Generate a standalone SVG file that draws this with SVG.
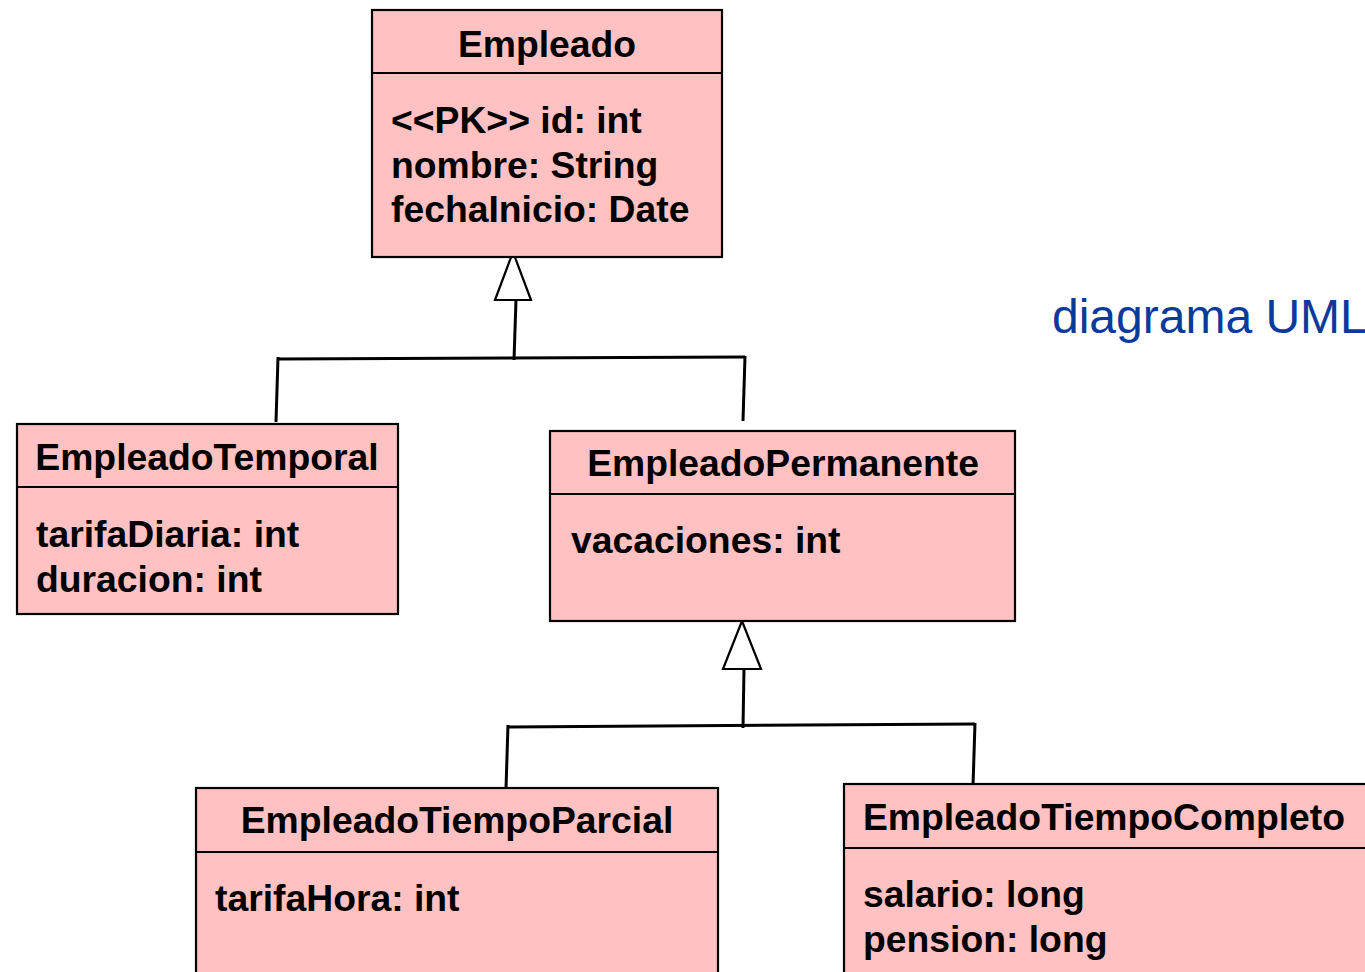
<svg xmlns="http://www.w3.org/2000/svg" width="1365" height="972" viewBox="0 0 1365 972">
  <style>
    .box { fill: #ffc1c1; stroke: #000; stroke-width: 2.2; }
    .sep { stroke: #000; stroke-width: 2.2; }
    .title { font-family: "Liberation Sans", Arial, sans-serif; font-weight: bold; font-size: 37.3px; fill: #000; text-anchor: middle; }
    .attr { font-family: "Liberation Sans", Arial, sans-serif; font-weight: bold; font-size: 37.3px; fill: #000; }
    .conn { stroke: #000; stroke-width: 3; fill: none; }
    .head { fill: #fff; stroke: #000; stroke-width: 2.2; }
    .note { font-family: "Liberation Sans", Arial, sans-serif; font-size: 48px; fill: #0a3a9c; }
  </style>

  <rect width="1365" height="972" fill="#fff"/>

  <!-- inheritance connectors -->
  <g id="connectors">
    <!-- Empleado generalization -->
    <line class="conn" x1="279" y1="359" x2="745" y2="357"/>
    <line class="conn" x1="278" y1="357" x2="276" y2="422"/>
    <line class="conn" x1="745" y1="356" x2="743" y2="421"/>
    <line class="conn" x1="516" y1="300" x2="514" y2="360"/>
    <polygon class="head" points="513,252 495,300 531,300"/>
    <!-- EmpleadoPermanente generalization -->
    <line class="conn" x1="509" y1="727" x2="975" y2="724"/>
    <line class="conn" x1="508" y1="725" x2="506" y2="789"/>
    <line class="conn" x1="975" y1="723" x2="973" y2="786"/>
    <line class="conn" x1="744" y1="669" x2="743" y2="728"/>
    <polygon class="head" points="742,621 723,669 761,669"/>
  </g>

  <g id="empleado">
    <rect class="box" x="372" y="10" width="350" height="247"/>
    <line class="sep" x1="372" y1="73" x2="722" y2="73"/>
    <text class="title" x="547" y="57">Empleado</text>
    <text class="attr" x="391" y="133">&lt;&lt;PK&gt;&gt; id: int</text>
    <text class="attr" x="391" y="178">nombre: String</text>
    <text class="attr" x="391" y="222">fechaInicio: Date</text>
  </g>

  <g id="empleado-temporal">
    <rect class="box" x="17" y="424" width="381" height="190"/>
    <line class="sep" x1="17" y1="487" x2="398" y2="487"/>
    <text class="title" x="207" y="470">EmpleadoTemporal</text>
    <text class="attr" x="36" y="547">tarifaDiaria: int</text>
    <text class="attr" x="36" y="592">duracion: int</text>
  </g>

  <g id="empleado-permanente">
    <rect class="box" x="550" y="431" width="465" height="190"/>
    <line class="sep" x1="550" y1="494" x2="1015" y2="494"/>
    <text class="title" x="783" y="476">EmpleadoPermanente</text>
    <text class="attr" x="571" y="553">vacaciones: int</text>
  </g>

  <g id="empleado-tiempo-parcial">
    <rect class="box" x="196" y="788" width="522" height="200"/>
    <line class="sep" x1="196" y1="852" x2="718" y2="852"/>
    <text class="title" x="457" y="833">EmpleadoTiempoParcial</text>
    <text class="attr" x="215" y="911">tarifaHora: int</text>
  </g>

  <g id="empleado-tiempo-completo">
    <rect class="box" x="844" y="784" width="530" height="204"/>
    <line class="sep" x1="844" y1="848" x2="1374" y2="848"/>
    <text class="title" x="1104" y="830">EmpleadoTiempoCompleto</text>
    <text class="attr" x="863" y="907">salario: long</text>
    <text class="attr" x="863" y="952">pension: long</text>
  </g>

  <text class="note" x="1052" y="333">diagrama UML</text>
</svg>
